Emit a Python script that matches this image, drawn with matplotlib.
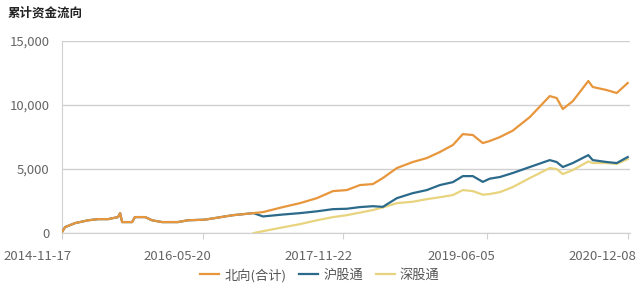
import matplotlib
matplotlib.use("Agg")
from matplotlib import pyplot as plt
import matplotlib.transforms as mtransforms
import numpy as np
import pandas as pd

plt.rcParams['font.family'] = ['Noto Sans CJK SC', 'DejaVu Sans']

dates = ["2014-11-17", "2014-11-29", "2015-01-07", "2015-02-27", "2015-04-07",
         "2015-05-16", "2015-06-24", "2015-07-02", "2015-07-10", "2015-08-18",
         "2015-08-29", "2015-10-08", "2015-11-04", "2015-12-13", "2016-02-13",
         "2016-03-23", "2016-05-29", "2016-09-16", "2016-12-05", "2017-01-11",
         "2017-03-30", "2017-06-05", "2017-08-10", "2017-10-12", "2017-12-05",
         "2018-01-25", "2018-03-17", "2018-04-25", "2018-06-19", "2018-08-20",
         "2018-10-14", "2018-12-04", "2019-01-24", "2019-03-04", "2019-04-12",
         "2019-05-21", "2019-06-17", "2019-07-27", "2019-09-15", "2019-11-21",
         "2020-02-07", "2020-03-05", "2020-03-29", "2020-05-07", "2020-07-07",
         "2020-07-24", "2020-09-17", "2020-10-26", "2020-12-08"]

north = [100, 470, 780, 1000, 1090, 1090, 1250, 1560, 860, 860,
         1250, 1250, 1000, 860, 860, 1000, 1050, 1400, 1560, 1640,
         2030, 2340, 2730, 3280, 3360, 3750, 3830, 4300, 5080, 5550,
         5860, 6330, 6880, 7730, 7660, 7030, 7190, 7500, 8000, 9060,
         10700, 10550, 9690, 10300, 11880, 11410, 11170, 10940, 11720]

sh = [100, 470, 780, 1000, 1090, 1090, 1250, 1560, 860, 860,
      1250, 1250, 1000, 860, 860, 1000, 1050, 1400, 1560, 1300,
      1450, 1560, 1700, 1870, 1900, 2030, 2100, 2050, 2730, 3120,
      3360, 3750, 3980, 4450, 4450, 4000, 4250, 4380, 4690, 5160,
      5700, 5550, 5160, 5470, 6090, 5700, 5550, 5470, 5940]

sz = [None] * 18 + [0, 150,
      450, 700, 1000, 1250, 1400, 1600, 1800, 2000, 2340, 2450,
      2650, 2800, 2970, 3360, 3280, 3000, 3050, 3200, 3590, 4300,
      5080, 5000, 4610, 4920, 5600, 5470, 5470, 5400, 5780]

xticks = ["2014-11-17", "2016-05-20", "2017-11-22", "2019-06-05", "2020-12-08"]
yticks = [0, 5000, 10000, 15000]

d = pd.to_datetime(dates)
sz = np.array([np.nan if v is None else v for v in sz], dtype=float)

fig = plt.figure(figsize=(6.4, 2.91), dpi=100)
ax = fig.add_axes([0.097, 0.199, 0.887, 0.66])

ax.plot(d, sz, color="#e8d47e", lw=1.6, label="深股通", zorder=3)
ax.plot(d, sh, color="#2b6a8a", lw=1.6, label="沪股通", zorder=4)
ax.plot(d, north, color="#e8963c", lw=1.6, label="北向(合计)", zorder=5)

ax.set_ylim(0, 15000)
ax.set_yticks(yticks)
ax.set_yticklabels([f"{v:,}" for v in yticks])
ax.set_xlim(pd.Timestamp("2014-11-17"), pd.Timestamp("2020-12-16"))
ax.set_xticks(pd.to_datetime(xticks))
ax.set_xticklabels(xticks)

ax.grid(axis="y", color="#d0d0d0", lw=1)
for s in ["top", "right"]:
    ax.spines[s].set_visible(False)
ax.spines["left"].set_color("#d0d0d0")
ax.spines["bottom"].set_color("#d0d0d0")
ax.tick_params(axis="y", length=0, labelsize=9.5, labelcolor="#666666", pad=9)
ax.tick_params(axis="x", length=4, color="#d0d0d0", labelsize=9.5,
               labelcolor="#666666", pad=8)

# x labels sit a bit left of their ticks in the original
shift = mtransforms.ScaledTranslation(-0.25, 0, fig.dpi_scale_trans)
for lab in ax.get_xticklabels():
    lab.set_transform(lab.get_transform() + shift)

fig.text(0.012, 0.955, "累计资金流向", fontsize=9, fontweight="bold",
         color="#222222", va="center")

h, l = ax.get_legend_handles_labels()
fig.legend(h[::-1], l[::-1], loc="lower center", bbox_to_anchor=(0.5, -0.01),
           ncol=3, frameon=False, fontsize=9.5, labelcolor="#555555",
           handlelength=1.4, handletextpad=0.4, columnspacing=1.0)

fig.savefig("out.png", dpi=100)
